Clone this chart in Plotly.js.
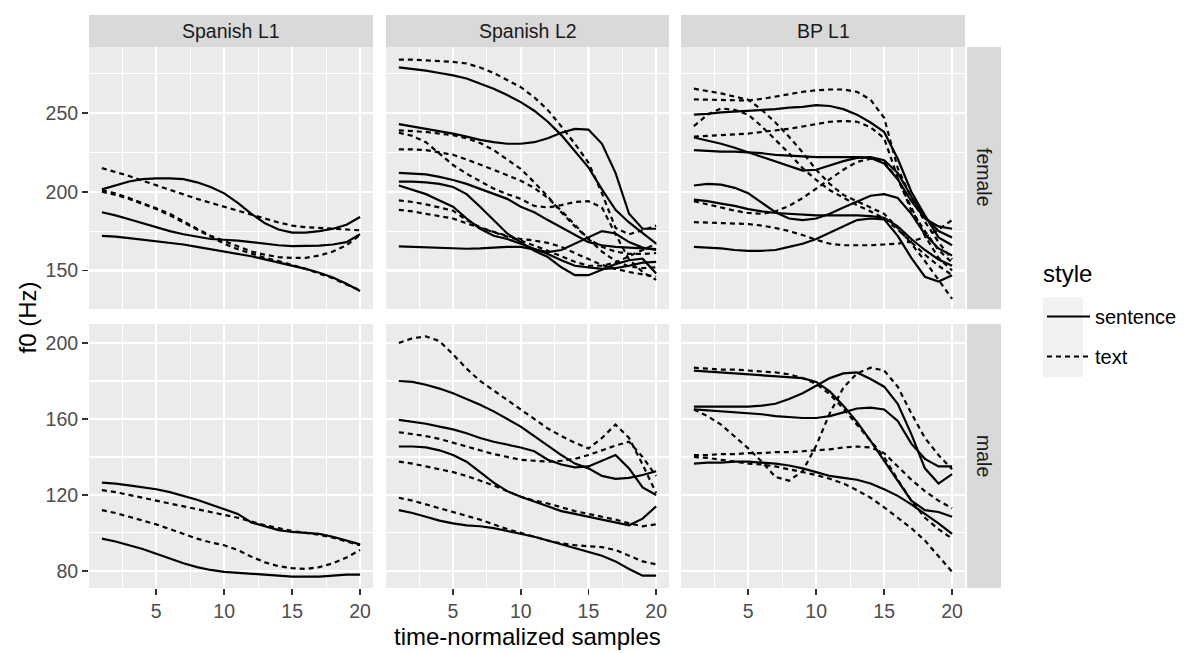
<!DOCTYPE html>
<html>
<head>
<meta charset="utf-8">
<script src="https://cdn.plot.ly/plotly-3.0.1.min.js"></script>
<style>
html,body{margin:0;padding:0;background:#ffffff;}
#chart{width:1184px;height:653px;}
</style>
</head>
<body>
<div id="chart"></div>
<script>
// ---------------- data ----------------
const samples = [1,2,3,4,5,6,7,8,9,10,11,12,13,14,15,16,17,18,19,20];
const columnLabels = ['Spanish L1', 'Spanish L2', 'BP L1'];
const rowLabels = ['female', 'male'];
const styleLabels = ['sentence', 'text'];
const legendTitle = 'style';
const xTitle = 'time-normalized samples';
const yTitle = 'f0 (Hz)';

// Spanish L1
const spL1FemaleSentence = [
  [201.5,204,206.5,208,208.5,208.5,208,206,203,199,193,186,180,176,174,174,175,176.5,179,184],
  [187,185,182.5,180,177.5,175,173,171.5,170,169.5,169,168,167,166,165.5,165.5,165.8,166.5,168,173],
  [172,171.5,170.5,169.5,168.5,167.5,166.5,165,163.5,162,160.5,159,157,155,153,151,148.5,145.5,141.5,137]
];
const spL1FemaleText = [
  [215,212.5,210,207,204,201,198,195.5,193,190.5,188,185.5,183,180.5,178.5,177.5,177,176.5,176,175.5],
  [201,199,196,193,189.5,186,181,176.5,172,168.5,165,162,160,158.5,158,158,159.5,162,166,172.5],
  [200,198,195.5,192.5,189,185,180.5,176,171,167,163.5,160.5,158,156,153.5,151,148,145,141,137.5]
];
const spL1MaleSentence = [
  [126.5,126,125,124,123,121.5,119.5,117.5,115,112.5,110,105.5,103.5,101.5,100.5,100,99.5,98,96,94],
  [97,95.5,93.5,91.5,89,86.5,84,82,80.5,79.5,79,78.5,78,77.5,77,77,77,77.5,78,78]
];
const spL1MaleText = [
  [122.5,121.5,120,118.5,117,115.5,114,112.5,111,109.5,108,106,104,102.5,101,100,99,97.5,95.5,93.5],
  [112,110.5,108.5,106.5,104.5,102,99.5,97,95,93.5,91,87.5,84.5,82.5,81.5,81,82,84,87,91]
];

// Spanish L2
const spL2FemaleSentence = [
  [279,278,277,275.5,274,272,269,265.5,261.5,257,251.5,244.5,236,226,215.5,201.5,188.5,180.5,173.5,167],
  [243,241.5,240,238.5,237,235,233,231.5,230.5,230.5,231.5,234,237.5,240,239.5,230.5,212,186,176.5,176.5],
  [212,211.5,211,209.5,207.5,205,202,199,195.5,190.5,187,182,177.5,172.5,168,166,165,164.5,164,163.5],
  [206.5,206.5,206,205,203,198.5,190.5,182,173.5,168,162.5,158.5,152,147,147,150.5,154,156.5,157.5,148],
  [165.3,165,164.5,164,163.8,163.8,164,164.5,165,165,163.5,161.7,163,167,171,175,173.5,168,164.5,163],
  [204,201.5,198.5,194.5,190.5,183,176.5,172,170,167,164,160.5,156.5,153,152,151,151.5,153,155,155.5]
];
const spL2FemaleText = [
  [284,284,283.5,283,282.5,281.5,279,275.5,271,266.5,260,252,241.5,230.5,218.5,199,177,173,175.5,178.5],
  [239,238.5,238,237,236,234,231,226.5,220.5,214.5,206,197,187,178,170,165,162,160.5,160.5,161],
  [227,227,226.5,225,223.5,220.5,217.5,214,210.5,207,202.5,196,188,179,170,162,156,152.5,151.5,152],
  [237.5,235.5,231.5,224,217,211.5,206.5,202,198.5,195.5,191,190,191.5,193.5,194,190,173,157,149,144],
  [194.5,193.5,192,190,188,182,177.5,174.5,172,170,169,167.5,165,161,157,153.5,151,149,147.5,146],
  [188.5,187.5,186,184.5,183,180,177,174,171.5,169,166,162.5,159,155.5,153,153,155,159,163,167]
];
const spL2MaleSentence = [
  [180,179.5,178,176,173.5,170.5,167.5,164,160,156,151,146,141,136.5,134,130,128.5,129,130.5,132.5],
  [159.5,158.5,157.5,156,154.5,152.5,150,148,146.5,145,143,138.5,136,134.5,135,138,141,134,124,120],
  [145.5,145.5,145,143.5,141,137.5,132,126.5,122,119,116.5,114,111.5,110,108.5,107,105.5,104,107.5,114],
  [112,110.5,108.5,106.5,105,104,103.5,102.5,101,99.5,98,96,94,92,90,88,85,81,77.5,77.5]
];
const spL2MaleText = [
  [200,202.5,203.5,201,194,186.5,180,175,170,165,160,155,151,147.5,144.5,150,157,150,136,121],
  [153,152,151,149.5,147.5,145.5,143.5,141.5,140,138.5,138,137.5,138,139,141,143.5,146,148,140,130],
  [137.5,136.5,135,133.5,132,130,127.5,125,122,119,117,115.5,113.5,111.5,110,108.5,107,105,103.5,104.5],
  [118.5,117,115,113,111,109,107,104.5,102,100,98,96,94.5,93.5,93,92.5,91,88,85,83.5]
];

// BP L1
const bpFemaleSentence = [
  [249,249.5,250.5,251,251.5,252,252.5,253.5,254,255,254.5,252.5,249,244,238,221,200,185,171,166],
  [234.5,232.5,230.5,228,225,222,219,216,213.5,214,216.5,219.5,221.5,222,220,212,197,184,175,171],
  [226.5,226,225.5,225.5,225,224.5,223.5,223,222.5,222,222,222,222,221.5,218,208,194,183,178,176.5],
  [204,205,204.5,202.5,199,193,187,183,182,183,186,190,194,197.5,198.5,196,186,173,164,159.5],
  [195,194,192.5,191,189,187.5,186.5,186,185.5,185,185,185,185,184.5,183.5,178,170,163,157,153],
  [165,164.5,164,163,162.5,162.5,163,165,167,170,174,178.5,182,183,182.5,172,158,146,143,147]
];
const bpFemaleText = [
  [265.5,264,262.5,260.5,258.5,252,244,235,225,214,205,198,194,190,186,177,167,156,144,132],
  [258.7,258.5,258,258,258,259,260.5,262,263.5,264.5,265,265,263.5,258.5,247,215,196,181,168,157],
  [235,235.5,236,236.5,237,238,239,240,241.5,243,244.5,245,244.5,241,234,209,188,175,163,155],
  [194,192,190,188,186.5,186,187.5,191,196,202,207.5,214,219,221,219,208,190,172,158,150],
  [180.7,180.5,180,180,179.5,178.5,177,175,172.5,169.5,167,166,166,166,166.5,167,168.5,171,176,182],
  [241.7,249,253,252,249,241.5,233,224.5,215,207.5,201,196,191.5,187.5,183,176,168,160,153,147]
];
const bpMaleSentence = [
  [185.5,185,184.5,184,183.5,183,182.5,182,181.5,179.5,174.5,167,158.5,148.5,138,127,117,112,111,108.5],
  [166.5,166.5,166.5,166.5,166.5,167,168,170.5,173.5,177.5,181.5,184,184.5,181,177,168,152,134,126,131],
  [165,164.5,164,163.5,163,162.5,161.5,161,160.5,160.5,161.5,163.5,165.5,166,165,159,147,139,135,135],
  [136.5,137,137,137.5,137.5,137,136.5,135.5,134,132,130,129,128,126,123,119.5,115,110,105,99.5]
];
const bpMaleText = [
  [187,186.5,186,186,185.5,185,184.5,183.5,181.5,178.5,173,165.5,157,149,140,128,117,108,102,97],
  [165,161.5,157,151,144.5,137.5,129.5,127.5,132.5,146,163,176.5,184,187,185.5,177,163,150,141,133.5],
  [141,141,141.5,141.5,142,142,142.5,142.5,143,143.5,144,145,145.5,145,142,135,128,122,117,113],
  [140,139.5,138.5,137.5,136.5,136,135,133.5,132,130.5,128.5,126,122.5,118.5,113.5,108,102.5,96,88,79.5]
];

// panels: row (female, male) x column (Spanish L1, Spanish L2, BP L1)
const panelSentence = [
  [spL1FemaleSentence, spL2FemaleSentence, bpFemaleSentence],
  [spL1MaleSentence, spL2MaleSentence, bpMaleSentence]
];
const panelText = [
  [spL1FemaleText, spL2FemaleText, bpFemaleText],
  [spL1MaleText, spL2MaleText, bpMaleText]
];

// ---------------- layout geometry (pixels) ----------------
const W = 1184, H = 653;
const colPx = [[89, 373], [386, 669], [681, 965]];
const rowPx = [[47, 309], [324, 588]];
const stripTop = 15;
const stripRight = [967, 1001];
const fx = px => px / W;
const fy = py => 1 - py / H;

const FONT = 'Liberation Sans, Arial, Helvetica, sans-serif';
const SMALL = 19.5, BIG = 24;
const rowRanges = [[125.5, 292], [71, 210]];
const rowDtick = [50, 40];
const xRange = [0.05, 20.95];

const traces = [];
const legendShown = {};
function addTraces(series, styleName, dash, axisSuffix) {
  series.forEach(ys => {
    const show = !legendShown[styleName];
    legendShown[styleName] = true;
    traces.push({
      x: samples, y: ys,
      xaxis: 'x' + axisSuffix, yaxis: 'y' + axisSuffix,
      type: 'scatter', mode: 'lines',
      line: {color: '#000000', width: 2.2, dash: dash},
      name: styleName, legendgroup: styleName, showlegend: show,
      hoverinfo: 'skip'
    });
  });
}

const layout = {
  width: W, height: H,
  margin: {l: 0, r: 0, t: 0, b: 0, pad: 0},
  paper_bgcolor: '#FFFFFF',
  plot_bgcolor: '#EBEBEB',
  font: {family: FONT, color: '#000000'},
  showlegend: true,
  legend: {
    x: fx(1042), xanchor: 'left', y: fy(297), yanchor: 'top',
    bgcolor: 'rgba(0,0,0,0)',
    font: {family: FONT, size: 20, color: '#000000'},
    tracegroupgap: 11,
    itemwidth: 43
  },
  shapes: [],
  annotations: []
};

for (let r = 0; r < 2; r++) {
  for (let c = 0; c < 3; c++) {
    const i = r * 3 + c + 1;
    const s = i === 1 ? '' : String(i);
    layout['xaxis' + s] = {
      domain: [fx(colPx[c][0]), fx(colPx[c][1])],
      range: xRange, anchor: 'y' + s,
      tickmode: 'linear', tick0: 0, dtick: 5,
      showgrid: true, gridcolor: '#FFFFFF', gridwidth: 2.2,
      minor: {tick0: 0, dtick: 2.5, showgrid: true, gridcolor: '#FFFFFF', gridwidth: 1.1, ticks: ''},
      zeroline: false, showline: false,
      ticks: r === 1 ? 'outside' : '', ticklen: 6, tickwidth: 1.6, tickcolor: '#333333',
      showticklabels: r === 1,
      tickfont: {family: FONT, size: SMALL, color: '#4D4D4D'},
      fixedrange: true
    };
    layout['yaxis' + s] = {
      domain: [fy(rowPx[r][1]), fy(rowPx[r][0])],
      range: rowRanges[r], anchor: 'x' + s,
      tickmode: 'linear', tick0: 0, dtick: rowDtick[r],
      showgrid: true, gridcolor: '#FFFFFF', gridwidth: 2.2,
      minor: {tick0: 0, dtick: rowDtick[r] / 2, showgrid: true, gridcolor: '#FFFFFF', gridwidth: 1.1, ticks: ''},
      zeroline: false, showline: false,
      ticks: c === 0 ? 'outside' : '', ticklen: 6, tickwidth: 1.6, tickcolor: '#333333',
      showticklabels: c === 0,
      tickfont: {family: FONT, size: SMALL, color: '#4D4D4D'},
      fixedrange: true
    };
    addTraces(panelSentence[r][c], styleLabels[0], 'solid', s);
    addTraces(panelText[r][c], styleLabels[1], '5px,4px', s);
  }
}

// strips
colPx.forEach((cp, c) => {
  layout.shapes.push({type: 'rect', xref: 'paper', yref: 'paper', layer: 'below',
    x0: fx(cp[0]), x1: fx(cp[1]), y0: fy(rowPx[0][0]), y1: fy(stripTop),
    fillcolor: '#D9D9D9', line: {width: 0}});
  layout.annotations.push({xref: 'paper', yref: 'paper', showarrow: false,
    x: fx((cp[0] + cp[1]) / 2), y: fy((stripTop + rowPx[0][0]) / 2), xanchor: 'center', yanchor: 'middle',
    text: columnLabels[c], font: {family: FONT, size: SMALL, color: '#1A1A1A'}});
});
rowPx.forEach((rp, r) => {
  layout.shapes.push({type: 'rect', xref: 'paper', yref: 'paper', layer: 'below',
    x0: fx(stripRight[0]), x1: fx(stripRight[1]), y0: fy(rp[1]), y1: fy(rp[0]),
    fillcolor: '#D9D9D9', line: {width: 0}});
  layout.annotations.push({xref: 'paper', yref: 'paper', showarrow: false,
    x: fx((stripRight[0] + stripRight[1]) / 2), y: fy((rp[0] + rp[1]) / 2), xanchor: 'center', yanchor: 'middle',
    textangle: 90, text: rowLabels[r], font: {family: FONT, size: SMALL, color: '#1A1A1A'}});
});

// legend title and key background (ggplot grey95 keys)
layout.annotations.push({xref: 'paper', yref: 'paper', showarrow: false,
  x: fx(1041), y: fy(273), xanchor: 'left', yanchor: 'middle',
  text: legendTitle, font: {family: FONT, size: BIG, color: '#000000'}});
layout.shapes.push({type: 'rect', xref: 'paper', yref: 'paper', layer: 'below',
  x0: fx(1043), x1: fx(1083), y0: fy(377), y1: fy(297),
  fillcolor: '#F2F2F2', line: {width: 0}});

// axis titles
layout.annotations.push({xref: 'paper', yref: 'paper', showarrow: false,
  x: fx((colPx[0][0] + colPx[2][1]) / 2), y: fy(636), xanchor: 'center', yanchor: 'middle',
  text: xTitle, font: {family: FONT, size: BIG, color: '#000000'}});
layout.annotations.push({xref: 'paper', yref: 'paper', showarrow: false,
  x: fx(27), y: fy((rowPx[0][0] + rowPx[1][1]) / 2), xanchor: 'center', yanchor: 'middle',
  textangle: -90, text: yTitle, font: {family: FONT, size: BIG, color: '#000000'}});

Plotly.newPlot('chart', traces, layout, {displayModeBar: false, staticPlot: true});
</script>
</body>
</html>
